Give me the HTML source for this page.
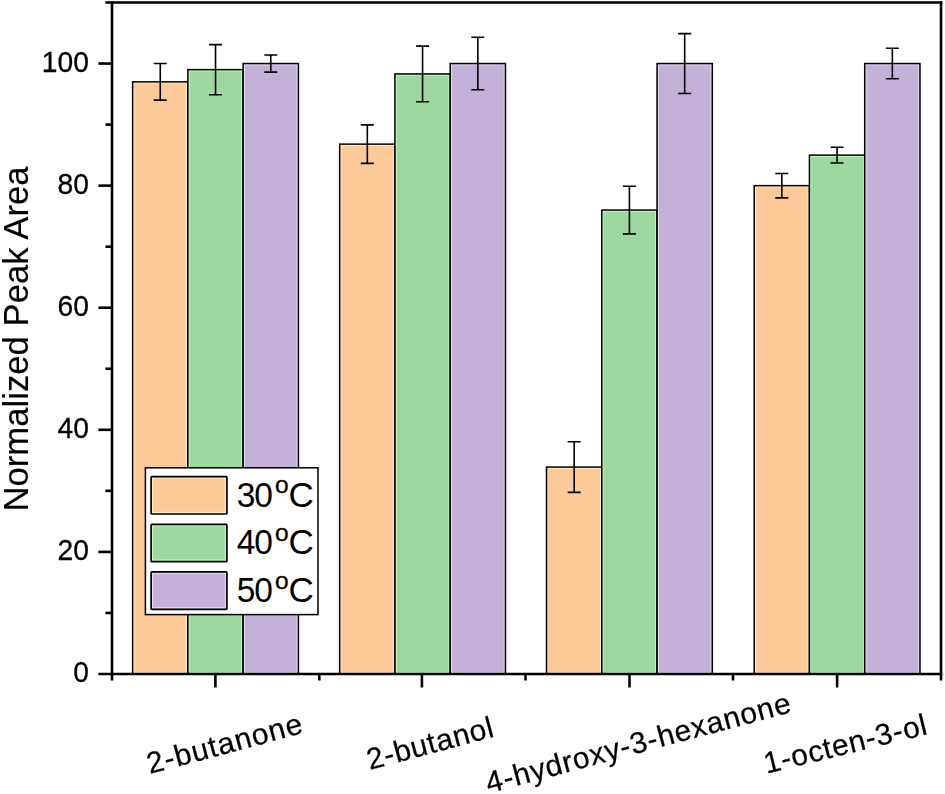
<!DOCTYPE html>
<html><head><meta charset="utf-8"><title>chart</title>
<style>domain{display:none!important;position:absolute;width:0;height:0;overflow:hidden}html,body{margin:0;padding:0;background:#fff}body{width:945px;height:794px;overflow:hidden}</style></head>
<body>
<svg width="945" height="794" viewBox="0 0 945 794" style="display:block;font-family:'Liberation Sans',sans-serif">
<rect width="945" height="794" fill="#fff"/>
<rect x="132.62" y="81.86" width="55.27" height="592.14" fill="#FCC999"/>
<rect x="133.82" y="83.06" width="52.87" height="589.74" fill="none" stroke="#FFEDBE" stroke-width="1.2"/>
<rect x="132.62" y="81.86" width="55.27" height="592.14" fill="none" stroke="#000" stroke-width="1.5"/>
<rect x="187.89" y="69.65" width="55.27" height="604.35" fill="#9ED89E"/>
<rect x="189.09" y="70.85" width="52.87" height="601.95" fill="none" stroke="#C4FBC4" stroke-width="1.2"/>
<rect x="187.89" y="69.65" width="55.27" height="604.35" fill="none" stroke="#000" stroke-width="1.5"/>
<rect x="243.16" y="63.55" width="55.27" height="610.45" fill="#C3B1D9"/>
<rect x="244.36" y="64.75" width="52.87" height="608.05" fill="none" stroke="#E6DAF6" stroke-width="1.2"/>
<rect x="243.16" y="63.55" width="55.27" height="610.45" fill="none" stroke="#000" stroke-width="1.5"/>
<rect x="339.67" y="144.13" width="55.27" height="529.87" fill="#FCC999"/>
<rect x="340.87" y="145.33" width="52.87" height="527.47" fill="none" stroke="#FFEDBE" stroke-width="1.2"/>
<rect x="339.67" y="144.13" width="55.27" height="529.87" fill="none" stroke="#000" stroke-width="1.5"/>
<rect x="394.94" y="73.92" width="55.27" height="600.08" fill="#9ED89E"/>
<rect x="396.14" y="75.12" width="52.87" height="597.68" fill="none" stroke="#C4FBC4" stroke-width="1.2"/>
<rect x="394.94" y="73.92" width="55.27" height="600.08" fill="none" stroke="#000" stroke-width="1.5"/>
<rect x="450.21" y="63.55" width="55.27" height="610.45" fill="#C3B1D9"/>
<rect x="451.41" y="64.75" width="52.87" height="608.05" fill="none" stroke="#E6DAF6" stroke-width="1.2"/>
<rect x="450.21" y="63.55" width="55.27" height="610.45" fill="none" stroke="#000" stroke-width="1.5"/>
<rect x="546.52" y="467.06" width="55.27" height="206.94" fill="#FCC999"/>
<rect x="547.73" y="468.26" width="52.87" height="204.54" fill="none" stroke="#FFEDBE" stroke-width="1.2"/>
<rect x="546.52" y="467.06" width="55.27" height="206.94" fill="none" stroke="#000" stroke-width="1.5"/>
<rect x="601.79" y="210.05" width="55.27" height="463.95" fill="#9ED89E"/>
<rect x="602.99" y="211.25" width="52.87" height="461.55" fill="none" stroke="#C4FBC4" stroke-width="1.2"/>
<rect x="601.79" y="210.05" width="55.27" height="463.95" fill="none" stroke="#000" stroke-width="1.5"/>
<rect x="657.06" y="63.55" width="55.27" height="610.45" fill="#C3B1D9"/>
<rect x="658.26" y="64.75" width="52.87" height="608.05" fill="none" stroke="#E6DAF6" stroke-width="1.2"/>
<rect x="657.06" y="63.55" width="55.27" height="610.45" fill="none" stroke="#000" stroke-width="1.5"/>
<rect x="754.18" y="185.64" width="55.27" height="488.36" fill="#FCC999"/>
<rect x="755.38" y="186.84" width="52.87" height="485.96" fill="none" stroke="#FFEDBE" stroke-width="1.2"/>
<rect x="754.18" y="185.64" width="55.27" height="488.36" fill="none" stroke="#000" stroke-width="1.5"/>
<rect x="809.44" y="155.11" width="55.27" height="518.89" fill="#9ED89E"/>
<rect x="810.64" y="156.31" width="52.87" height="516.49" fill="none" stroke="#C4FBC4" stroke-width="1.2"/>
<rect x="809.44" y="155.11" width="55.27" height="518.89" fill="none" stroke="#000" stroke-width="1.5"/>
<rect x="864.71" y="63.55" width="55.27" height="610.45" fill="#C3B1D9"/>
<rect x="865.91" y="64.75" width="52.87" height="608.05" fill="none" stroke="#E6DAF6" stroke-width="1.2"/>
<rect x="864.71" y="63.55" width="55.27" height="610.45" fill="none" stroke="#000" stroke-width="1.5"/>
<path d="M160.26 63.55V100.17M153.76 63.55h13M153.76 100.17h13" stroke="#000" stroke-width="1.6" fill="none"/>
<path d="M215.53 44.62V94.68M209.03 44.62h13M209.03 94.68h13" stroke="#000" stroke-width="1.6" fill="none"/>
<path d="M270.79 55.00V72.09M264.29 55.00h13M264.29 72.09h13" stroke="#000" stroke-width="1.6" fill="none"/>
<path d="M367.31 124.90V163.35M360.81 124.90h13M360.81 163.35h13" stroke="#000" stroke-width="1.6" fill="none"/>
<path d="M422.57 46.15V101.70M416.07 46.15h13M416.07 101.70h13" stroke="#000" stroke-width="1.6" fill="none"/>
<path d="M477.84 37.30V89.79M471.34 37.30h13M471.34 89.79h13" stroke="#000" stroke-width="1.6" fill="none"/>
<path d="M574.16 441.72V492.39M567.66 441.72h13M567.66 492.39h13" stroke="#000" stroke-width="1.6" fill="none"/>
<path d="M629.42 186.25V233.86M622.92 186.25h13M622.92 233.86h13" stroke="#000" stroke-width="1.6" fill="none"/>
<path d="M684.69 33.63V93.46M678.19 33.63h13M678.19 93.46h13" stroke="#000" stroke-width="1.6" fill="none"/>
<path d="M781.81 173.43V197.85M775.31 173.43h13M775.31 197.85h13" stroke="#000" stroke-width="1.6" fill="none"/>
<path d="M837.08 147.18V163.05M830.58 147.18h13M830.58 163.05h13" stroke="#000" stroke-width="1.6" fill="none"/>
<path d="M892.34 48.28V78.81M885.84 48.28h13M885.84 78.81h13" stroke="#000" stroke-width="1.6" fill="none"/>
<g stroke="#000" stroke-width="2.60" fill="none" stroke-linecap="butt">
<path d="M105.30 2.50H942.30"/>
<path d="M112.00 1.20V680.50"/>
<path d="M941.00 1.20V680.50"/>
<path d="M98.40 674.00H942.30"/>
<path d="M98.40 551.91H112.00"/>
<path d="M98.40 429.82H112.00"/>
<path d="M98.40 307.73H112.00"/>
<path d="M98.40 185.64H112.00"/>
<path d="M98.40 63.55H112.00"/>
<path d="M105.50 612.95H112.00"/>
<path d="M105.50 490.86H112.00"/>
<path d="M105.50 368.77H112.00"/>
<path d="M105.50 246.68H112.00"/>
<path d="M105.50 124.59H112.00"/>
<path d="M215.40 674.00V687.50"/>
<path d="M421.90 674.00V687.50"/>
<path d="M629.50 674.00V687.50"/>
<path d="M837.10 674.00V687.50"/>
<path d="M319.30 674.00V680.50"/>
<path d="M525.50 674.00V680.50"/>
<path d="M733.00 674.00V680.50"/>
</g>
<g opacity="0.999">
<text transform="translate(88.9 682.40) scale(1 1.045)" font-size="28.2" text-anchor="end" stroke="#000" stroke-width="0.3">0</text>
<text transform="translate(88.9 560.31) scale(1 1.045)" font-size="28.2" text-anchor="end" stroke="#000" stroke-width="0.3">20</text>
<text transform="translate(88.9 438.22) scale(1 1.045)" font-size="28.2" text-anchor="end" stroke="#000" stroke-width="0.3">40</text>
<text transform="translate(88.9 316.13) scale(1 1.045)" font-size="28.2" text-anchor="end" stroke="#000" stroke-width="0.3">60</text>
<text transform="translate(88.9 194.04) scale(1 1.045)" font-size="28.2" text-anchor="end" stroke="#000" stroke-width="0.3">80</text>
<text transform="translate(88.9 71.95) scale(1 1.045)" font-size="28.2" text-anchor="end" stroke="#000" stroke-width="0.3">100</text>
<text transform="translate(28 339) rotate(-90) scale(1 1.03)" font-size="34.7" text-anchor="middle" stroke="#000" stroke-width="0.15">Normalized Peak Area</text>
<text transform="translate(305.1 732.5) rotate(-15.00)" font-size="30" letter-spacing="0.90" text-anchor="end" stroke="#000" stroke-width="0.25">2-butanone</text>
<text transform="translate(495.8 736.2) rotate(-15.00)" font-size="30" letter-spacing="0.60" text-anchor="end" stroke="#000" stroke-width="0.25">2-butanol</text>
<text transform="translate(793.3 711.7) rotate(-15.00)" font-size="30" letter-spacing="0.75" text-anchor="end" stroke="#000" stroke-width="0.25">4-hydroxy-3-hexanone</text>
<text transform="translate(929.0 733.8) rotate(-13.80)" font-size="30" letter-spacing="0.60" text-anchor="end" stroke="#000" stroke-width="0.25">1-octen-3-ol</text>
</g>
<rect x="145.4" y="467.8" width="172.6" height="146.8" fill="#fff" stroke="#000" stroke-width="1.5"/>
<rect x="151.1" y="476.7" width="75.8" height="37.3" fill="#FCC999"/>
<rect x="152.5" y="478.1" width="73" height="34.3" fill="none" stroke="#FFEDBE" stroke-width="1.2"/>
<rect x="151.1" y="476.7" width="75.8" height="37.3" rx="0.8" fill="none" stroke="#000" stroke-width="1.7"/>
<g stroke="#000" stroke-width="0">
<text transform="translate(236.8 506.7) scale(1 1.07)" font-size="33.5">3</text>
<text transform="translate(254.2 506.7) scale(1 1.07)" font-size="33.5">0</text>
<text transform="translate(275.1 493.4)" font-size="24.5" stroke-width="0.35">o</text>
<text transform="translate(288.6 506.5)" font-size="35">C</text>
</g>
<rect x="151.1" y="524.4" width="75.8" height="37.3" fill="#9ED89E"/>
<rect x="152.5" y="525.8" width="73" height="34.3" fill="none" stroke="#C4FBC4" stroke-width="1.2"/>
<rect x="151.1" y="524.4" width="75.8" height="37.3" rx="0.8" fill="none" stroke="#000" stroke-width="1.7"/>
<g stroke="#000" stroke-width="0">
<text transform="translate(236.8 554.1) scale(1 1.07)" font-size="33.5">4</text>
<text transform="translate(254.2 554.1) scale(1 1.07)" font-size="33.5">0</text>
<text transform="translate(275.1 540.8)" font-size="24.5" stroke-width="0.35">o</text>
<text transform="translate(288.6 553.9)" font-size="35">C</text>
</g>
<rect x="151.1" y="571.9" width="75.8" height="37.5" fill="#C3B1D9"/>
<rect x="152.5" y="573.3" width="73" height="34.5" fill="none" stroke="#E6DAF6" stroke-width="1.2"/>
<rect x="151.1" y="571.9" width="75.8" height="37.5" rx="0.8" fill="none" stroke="#000" stroke-width="1.7"/>
<g stroke="#000" stroke-width="0">
<text transform="translate(236.8 602.1) scale(1 1.07)" font-size="33.5">5</text>
<text transform="translate(254.2 602.1) scale(1 1.07)" font-size="33.5">0</text>
<text transform="translate(275.1 588.8)" font-size="24.5" stroke-width="0.35">o</text>
<text transform="translate(288.6 601.9)" font-size="35">C</text>
</g>
</svg>
</body></html>
